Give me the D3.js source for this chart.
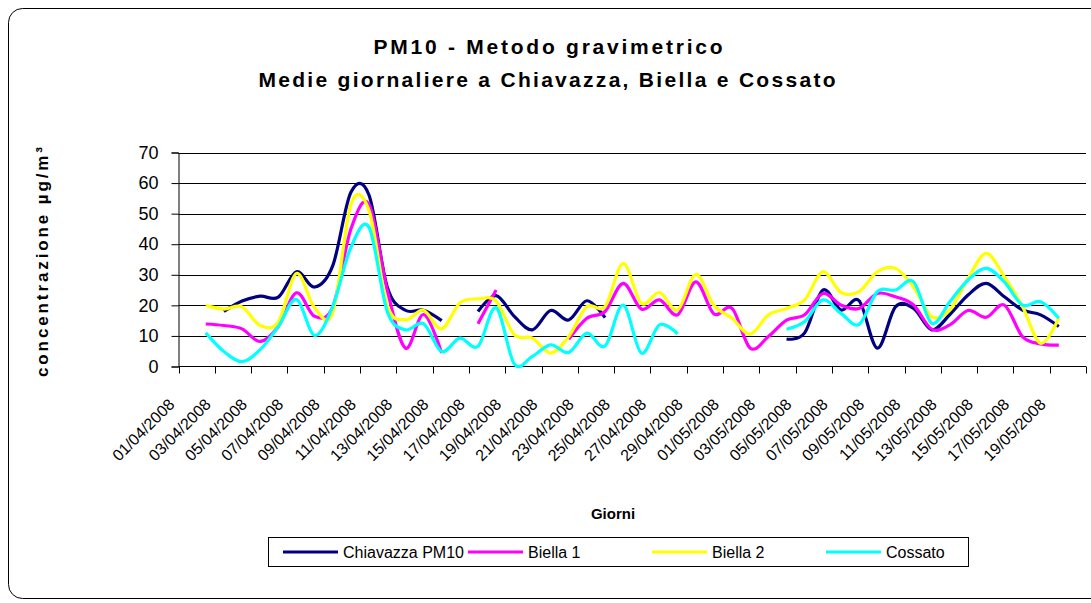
<!DOCTYPE html>
<html>
<head>
<meta charset="utf-8">
<script src="https://cdn.jsdelivr.net/npm/d3@7"></script>
<style>
  body { margin: 0; background: #fff; }
  svg { display: block; font-family: "Liberation Sans", Arial, sans-serif; }
</style>
</head>
<body>
<div id="chart"></div>
<script>
const categories = [
  "01/04/2008","02/04/2008","03/04/2008","04/04/2008","05/04/2008","06/04/2008","07/04/2008","08/04/2008","09/04/2008","10/04/2008",
  "11/04/2008","12/04/2008","13/04/2008","14/04/2008","15/04/2008","16/04/2008","17/04/2008","18/04/2008","19/04/2008","20/04/2008",
  "21/04/2008","22/04/2008","23/04/2008","24/04/2008","25/04/2008","26/04/2008","27/04/2008","28/04/2008","29/04/2008","30/04/2008",
  "01/05/2008","02/05/2008","03/05/2008","04/05/2008","05/05/2008","06/05/2008","07/05/2008","08/05/2008","09/05/2008","10/05/2008",
  "11/05/2008","12/05/2008","13/05/2008","14/05/2008","15/05/2008","16/05/2008","17/05/2008","18/05/2008","19/05/2008","20/05/2008"
];

const chiavazza = [
  null, null, 18, 21.4, 23, 22.7, 31, 26, 33, 57,
  56, 26, 18.4, 18.4, 15, null, 18, 23.2, 16.4, 12,
  18.3, 15.2, 21.5, 16, null, null, null, null, null, null,
  null, null, null, 9, 11, 25, 18.5, 21.5, 6, 19.5,
  19, 12, 17, 23.4, 27.2, 22.8, 18.5, 16.9, 13.1, null
];
const biella1 = [
  null, 13.9, 13.4, 12.3, 8.2, 13.1, 24.1, 16.4, 19.5, 45,
  53, 25, 6, 17, 4.4, null, 14, 25, null, null,
  null, 8.9, 15.8, 18, 27.2, 18.8, 21.8, 16.9, 27.7, 17.2,
  19, 6, 9.8, 15.2, 16.9, 23.9, 20.1, 19, 23.9, 22.8,
  20.1, 12.2, 13.6, 18.3, 16.1, 20.1, 9.8, 7.4, 7, null
];
const biella2 = [
  null, 20, 18.8, 19.5, 13.4, 14.6, 30.4, 19.2, 17.7, 53,
  51, 20, 15.3, 18.4, 12.3, 20.8, 22.1, 21.4, 10.4, 9.3,
  4.4, 9.8, 19.6, 19.6, 33.7, 20.7, 24.2, 18.5, 30.1, 20,
  15.8, 10.6, 16.9, 19, 21.8, 31, 24.2, 24.5, 31, 32.1,
  26, 16.3, 18.5, 28.8, 37, 29.4, 19.6, 7.6, 15.8, null
];
const cossato = [
  null, 11, 4.9, 1.6, 5.5, 13.1, 21.9, 10.2, 19.7, 39,
  45.5, 18, 12, 14, 4.9, 9.3, 6.6, 19.2, 0.8, 3.3,
  7.1, 4.6, 10.9, 6.7, 20.1, 4.4, 13.6, 10.7, null, null,
  null, null, null, 12.2, 14.7, 21.8, 17.4, 13.8, 24.5, 25,
  27.7, 14.1, 21.2, 28.3, 32.1, 27.7, 20.1, 21.2, 15.8, null
];

const seriesNames = ["Chiavazza PM10", "Biella 1", "Biella 2", "Cossato"];
const yTicks = [0, 10, 20, 30, 40, 50, 60, 70];

const colors = ["#000080", "#ff00ff", "#ffff00", "#00ffff"];
const allSeries = [chiavazza, biella1, biella2, cossato];

const W = 1091, H = 603;
const plot = { left: 178.5, right: 1086, top: 152.5, bottom: 366.5 };
const legendX = [283, 468, 652, 826];

const svg = d3.select("#chart").append("svg")
  .attr("width", W).attr("height", H);

// chart border
svg.append("rect")
  .attr("x", 8.5).attr("y", 8.5)
  .attr("width", 1110).attr("height", 590)
  .attr("rx", 14).attr("ry", 14)
  .attr("fill", "#fff").attr("stroke", "#000").attr("stroke-width", 1);

// titles
svg.append("text")
  .attr("x", 548).attr("y", 54)
  .attr("text-anchor", "middle")
  .attr("font-size", 21).attr("font-weight", "bold")
  .attr("textLength", 349).attr("lengthAdjust", "spacing")
  .text("PM10 - Metodo gravimetrico");
svg.append("text")
  .attr("x", 547).attr("y", 87)
  .attr("text-anchor", "middle")
  .attr("font-size", 21).attr("font-weight", "bold")
  .attr("textLength", 577).attr("lengthAdjust", "spacing")
  .text("Medie giornaliere a Chiavazza, Biella e Cossato");

const x = d3.scaleBand()
  .domain(categories)
  .range([plot.left, plot.right])
  .padding(0);

const y = d3.scaleLinear()
  .domain([0, 70])
  .range([plot.bottom, plot.top]);

// gridlines
svg.append("g")
  .selectAll("line")
  .data(yTicks.filter(d => d > 0))
  .enter().append("line")
  .attr("x1", plot.left).attr("x2", plot.right)
  .attr("y1", d => Math.round(y(d)) + 0.5).attr("y2", d => Math.round(y(d)) + 0.5)
  .attr("stroke", "#000").attr("stroke-width", 1);

// Y axis
const yAxis = svg.append("g")
  .attr("transform", `translate(${plot.left},0)`)
  .call(d3.axisLeft(y).tickValues(yTicks).tickSize(7).tickPadding(13).tickFormat(d3.format("d")));
yAxis.selectAll("text").attr("font-size", 18).attr("fill", "#000").attr("font-family", "Liberation Sans, Arial, sans-serif");
yAxis.selectAll("line, path").attr("stroke", "#000");

// X axis: ticks every two days, labels rotated
const labelCats = categories.filter((d, i) => i % 2 === 0);
const xAxisG = svg.append("g");
xAxisG.append("line")
  .attr("x1", plot.left).attr("x2", plot.right)
  .attr("y1", plot.bottom).attr("y2", plot.bottom)
  .attr("stroke", "#000");
const tickXs = labelCats.map(d => x(d)).concat([plot.right]);
xAxisG.selectAll(".xt")
  .data(tickXs)
  .enter().append("line")
  .attr("x1", d => Math.round(d) + 0.5).attr("x2", d => Math.round(d) + 0.5)
  .attr("y1", plot.bottom).attr("y2", plot.bottom + 7)
  .attr("stroke", "#000");
xAxisG.selectAll(".xl")
  .data(labelCats)
  .enter().append("text")
  .attr("transform", d => `translate(${x(d) - 3},${plot.bottom + 39}) rotate(-45)`)
  .attr("text-anchor", "end")
  .attr("font-size", 16)
  .text(d => d);

// lines
const line = d3.line()
  .defined(d => d.v != null)
  .x(d => x(d.c) + x.bandwidth() / 2)
  .y(d => y(d.v))
  .curve(d3.curveCatmullRom.alpha(0));

allSeries.forEach((vals, k) => {
  svg.append("path")
    .datum(categories.map((c, i) => ({ c, v: vals[i] })))
    .attr("d", line)
    .attr("fill", "none")
    .attr("stroke", colors[k])
    .attr("stroke-width", 3.2)
    .attr("stroke-linejoin", "round");
});

// axis titles
svg.append("text")
  .attr("transform", "translate(48,262) rotate(-90)")
  .attr("text-anchor", "middle")
  .attr("font-size", 17).attr("font-weight", "bold")
  .attr("textLength", 230).attr("lengthAdjust", "spacing")
  .text("concentrazione µg/m³");
svg.append("text")
  .attr("x", 613).attr("y", 519)
  .attr("text-anchor", "middle")
  .attr("font-size", 15).attr("font-weight", "bold")
  .text("Giorni");

// legend
const legend = svg.append("g");
legend.append("rect")
  .attr("x", 268.5).attr("y", 537.5).attr("width", 700).attr("height", 29)
  .attr("fill", "#fff").attr("stroke", "#000");
const entries = legend.selectAll(".le").data(seriesNames).enter().append("g")
  .attr("transform", (d, i) => `translate(${legendX[i]},552)`);
entries.append("line")
  .attr("x1", 0).attr("x2", 55).attr("y1", 0).attr("y2", 0)
  .attr("stroke", (d, i) => colors[i]).attr("stroke-width", 3.2);
entries.append("text")
  .attr("x", 60).attr("y", 6)
  .attr("font-size", 16)
  .text(d => d);
</script>
</body>
</html>
